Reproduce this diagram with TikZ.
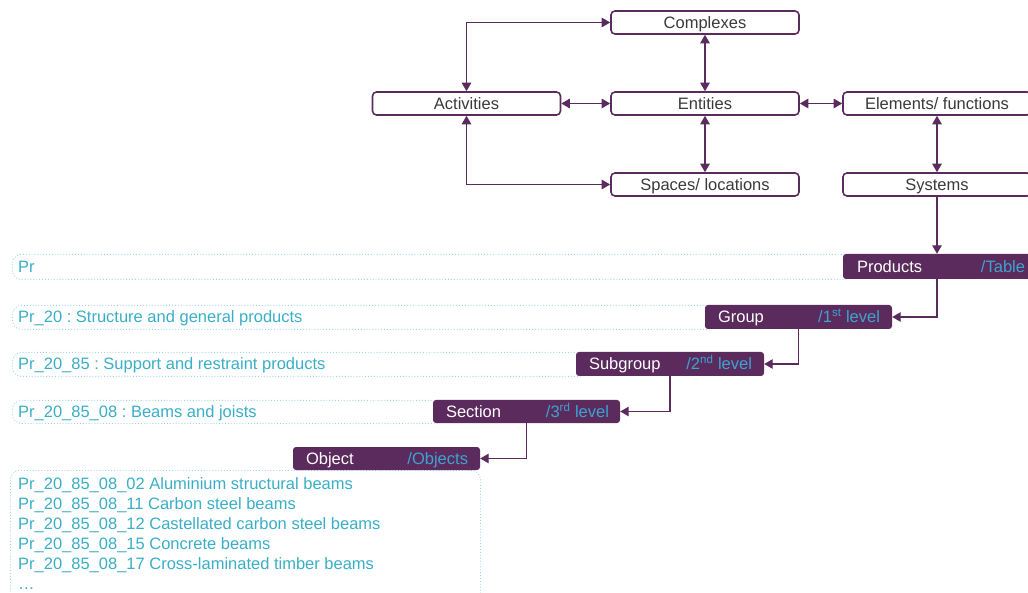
\documentclass[tikz,border=0pt]{standalone}
\usepackage{fontspec}
\setmainfont{Liberation Sans}
\usetikzlibrary{arrows.meta}
\definecolor{pp}{HTML}{5C2B5E}
\definecolor{cy}{HTML}{3AAEC6}
\definecolor{cyb}{HTML}{3DA3CF}
\definecolor{dotc}{HTML}{9ED6E0}
\definecolor{txtgray}{HTML}{3A3A3A}
\newcommand{\fs}{\frenchspacing\fontsize{16.5pt}{20pt}\selectfont}
\tikzset{
  wbox/.style={draw=pp, line width=1.6pt, rounded corners=4pt, fill=white, minimum width=188pt, minimum height=23pt, inner sep=0pt, text=txtgray, font=\fs, text height=12pt, text depth=0pt},
  pbox/.style={fill=pp, rounded corners=3pt, minimum height=24pt, inner sep=0pt},
  dbox/.style={draw=dotc, dotted, line width=0.9pt, rounded corners=9pt, inner sep=0pt, minimum height=24pt},
  lbl/.style={text=white, anchor=west, inner sep=0pt, font=\fs, text height=12pt, text depth=0pt},
  tlbl/.style={text=cyb, anchor=east, inner sep=0pt, font=\fs, text height=12pt, text depth=0pt},
  dtxt/.style={text=cy, anchor=west, inner sep=0pt, font=\fs, text height=12pt, text depth=0pt},
  conn/.style={draw=pp, line width=1.2pt, -{Triangle[length=8.5pt,width=9.5pt]}},
  dconn/.style={draw=pp, line width=1.2pt, {Triangle[length=8.5pt,width=9.5pt]}-{Triangle[length=8.5pt,width=9.5pt]}},
}
\begin{document}
\begin{tikzpicture}[x=1pt,y=-1pt]
\useasboundingbox (0,0) rectangle (1028,593);
\clip (0,0) rectangle (1028,593);
% top boxes
\node[wbox] (cpx) at (705,22.5) {Complexes};
\node[wbox] (act) at (466.5,103.5) {Activities};
\node[wbox] (ent) at (705,103.5) {Entities};
\node[wbox] (elm) at (937,103.5) {Elements/ functions};
\node[wbox] (spc) at (705,184.5) {Spaces/ locations};
\node[wbox] (sys) at (937,184.5) {Systems};
% dotted boxes
\node[dbox, minimum width=841pt, minimum height=25pt, anchor=north west] (d0) at (12,254) {};
\node[dbox, minimum width=703pt, anchor=north west] (d1) at (12,305) {};
\node[dbox, minimum width=574pt, anchor=north west] (d2) at (12,352) {};
\node[dbox, minimum width=431pt, minimum height=23pt, anchor=north west] (d3) at (12,400) {};
\node[dbox, minimum width=470pt, minimum height=150pt, anchor=north west] (lst) at (10,470) {};
\node[dtxt] (t0) at (18,266.5) {Pr};
\node[dtxt] (t1) at (18,317) {Pr\_20 : Structure and general products};
\node[dtxt] (t2) at (18,364) {Pr\_20\_85 : Support and restraint products};
\node[dtxt] (t3) at (18,411.5) {Pr\_20\_85\_08 : Beams and joists};
\node[text=cy, anchor=north west, inner sep=0pt, font=\fs, align=left] (tl) at (18,477.5) {%
Pr\_20\_85\_08\_02 Aluminium structural beams\\
Pr\_20\_85\_08\_11 Carbon steel beams\\
Pr\_20\_85\_08\_12 Castellated carbon steel beams\\
Pr\_20\_85\_08\_15 Concrete beams\\
Pr\_20\_85\_08\_17 Cross-laminated timber beams\\
\ldots};
% purple boxes
\node[pbox, minimum width=188pt, minimum height=25pt] (prod) at (937,266.5) {};
\node[pbox, minimum width=187pt] (grp) at (798.5,317) {};
\node[pbox, minimum width=188pt] (sub) at (670,364) {};
\node[pbox, minimum width=187pt, minimum height=23pt] (sec) at (526.5,411.5) {};
\node[pbox, minimum width=187pt, minimum height=23pt] (obj) at (386.5,458.5) {};
\node[lbl] (l0) at ([xshift=14pt]prod.west) {Products};
\node[tlbl] (r0) at ([xshift=-6pt]prod.east) {/Table};
\node[lbl] (l1) at ([xshift=13pt]grp.west) {Group};
\node[tlbl] (r1) at ([xshift=-12pt]grp.east) {/1\textsuperscript{st} level};
\node[lbl] (l2) at ([xshift=13pt]sub.west) {Subgroup};
\node[tlbl] (r2) at ([xshift=-12pt]sub.east) {/2\textsuperscript{nd} level};
\node[lbl] (l3) at ([xshift=13pt]sec.west) {Section};
\node[tlbl] (r3) at ([xshift=-11pt]sec.east) {/3\textsuperscript{rd} level};
\node[lbl] (l4) at ([xshift=13pt]obj.west) {Object};
\node[tlbl] (r4) at ([xshift=-12pt]obj.east) {/Objects};
% connectors
\draw[dconn] (act.north) |- (cpx.west);
\draw[dconn] (act.south) |- (spc.west);
\draw[dconn] (act.east) -- (ent.west);
\draw[dconn] (ent.north) -- (cpx.south);
\draw[dconn] (ent.south) -- (spc.north);
\draw[dconn] (ent.east) -- (elm.west);
\draw[dconn] (elm.south) -- (sys.north);
\draw[conn] (sys.south) -- (prod.north);
\draw[conn] (prod.south) |- (grp.east);
\draw[conn] (grp.south) |- (sub.east);
\draw[conn] (sub.south) |- (sec.east);
\draw[conn] (sec.south) |- (obj.east);
\end{tikzpicture}
\end{document}
